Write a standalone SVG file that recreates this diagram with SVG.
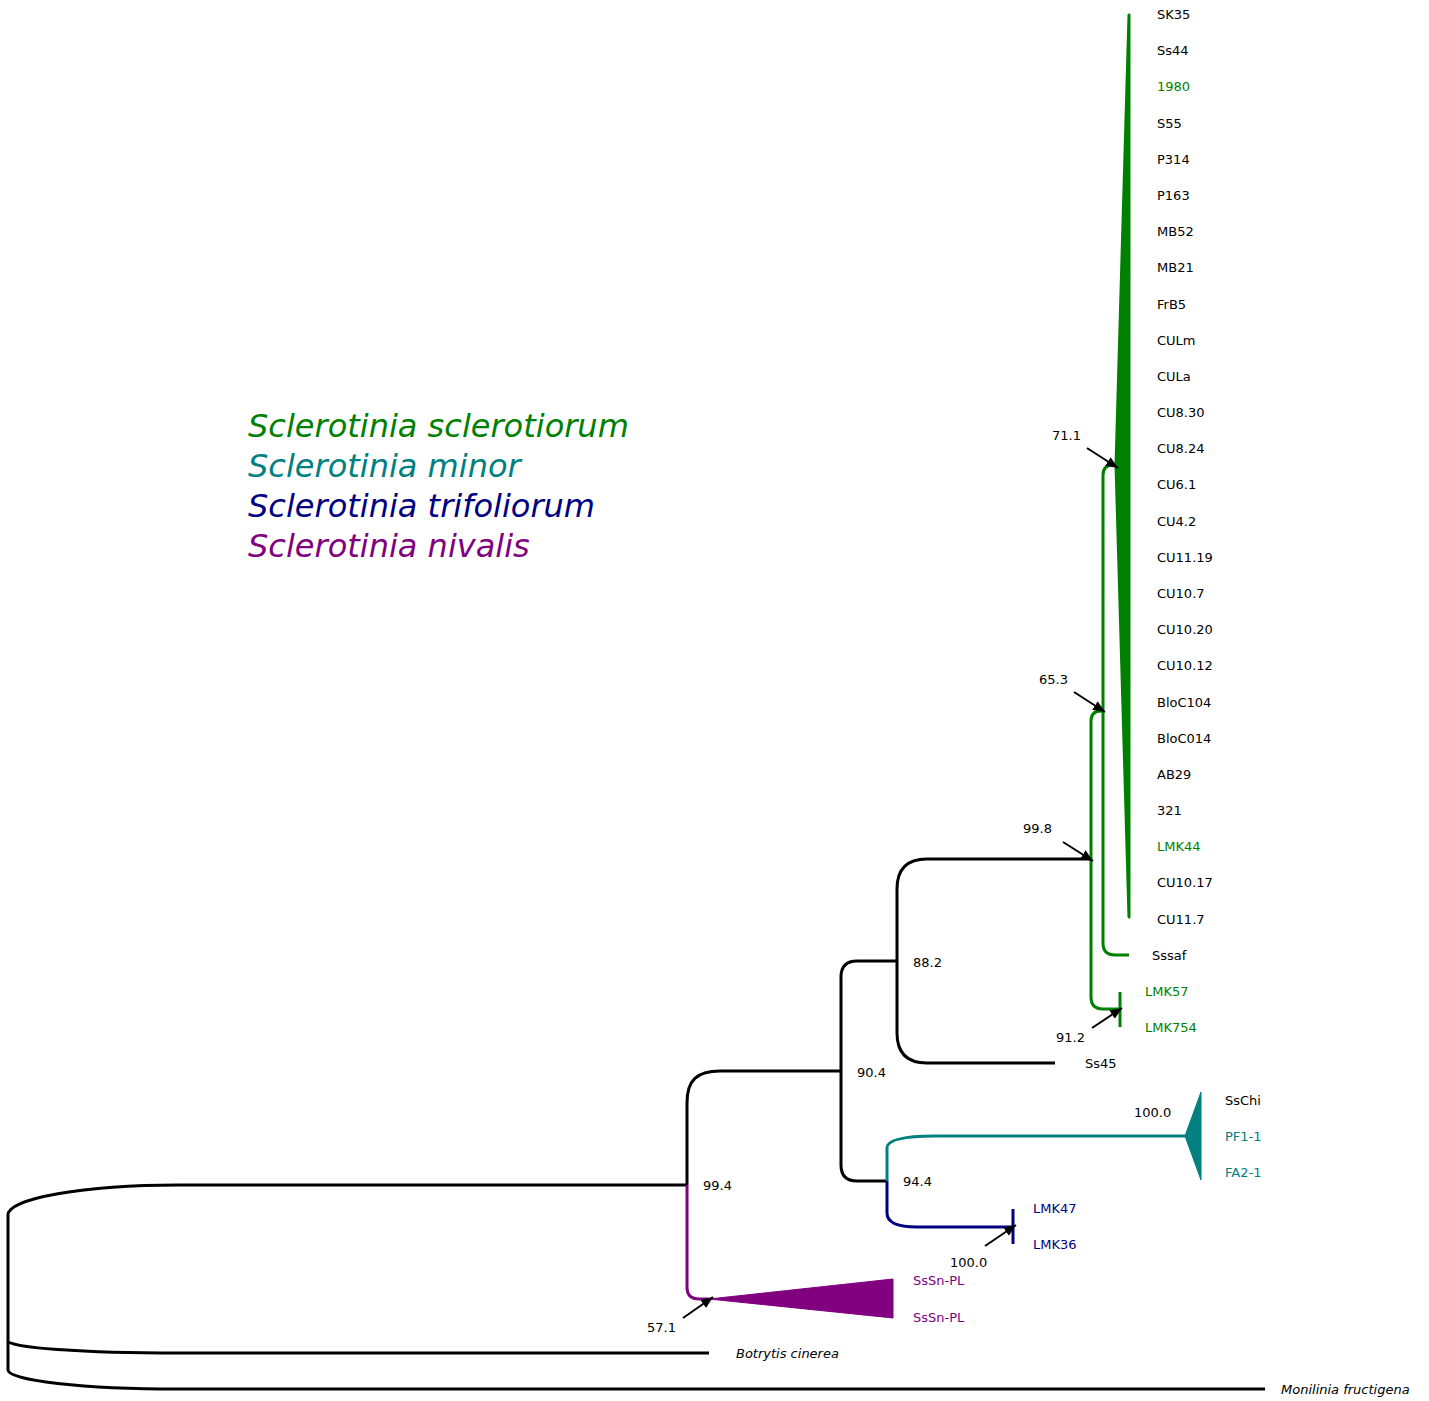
<svg xmlns="http://www.w3.org/2000/svg" width="1429" height="1401" viewBox="0 0 1429 1401">
<style>
.br{fill:none;stroke-width:3;stroke-linecap:butt;stroke-linejoin:round}
.k{stroke:#000}.g{stroke:#008000}.t{stroke:#008080}.n{stroke:#000080}.p{stroke:#800080}
.lf{font-family:"DejaVu Sans",sans-serif;font-size:13px;fill:#000}
.it{font-style:italic}
.cg{fill:#008000}.ct{fill:#008080}.cn{fill:#000080}.cp{fill:#800080}
.lg{font-family:"DejaVu Sans",sans-serif;font-size:32px;font-style:italic}
.ar{stroke:#000;stroke-width:2;fill:none}
</style>
<defs>
<marker id="ah" markerUnits="userSpaceOnUse" markerWidth="13" markerHeight="11" refX="12" refY="5" orient="auto" viewBox="0 0 13 11">
<path d="M0,0 L12,5 L0,10 z" fill="#000"/>
</marker>
</defs>
<rect width="1429" height="1401" fill="#fff"/>
<g id="connectors">
<path class="br k" d="M8,1370 V1215 A170,30 0 0 1 178,1185 H687"/>
<path class="br k" d="M8,1341 A170,12 0 0 0 178,1353 H709"/>
<path class="br k" d="M8,1370 A170,19 0 0 0 178,1389 H1265"/>
<path class="br k" d="M687,1185 V1103 C687,1080 697,1071 720,1071 H841"/>
<path class="br k" d="M841,1071 V977 Q841,961 857,961 H897"/>
<path class="br k" d="M841,1071 V1165 Q841,1181 857,1181 H887"/>
<path class="br k" d="M897,961 V889 Q897,859 927,859 H1091"/>
<path class="br k" d="M897,961 V1033 Q897,1063 927,1063 H1055"/>
<path class="br p" d="M687,1185 V1287 Q687,1299 699,1299 H709"/>
<path class="br g" d="M1091,859 V721 Q1091,711 1101,711 H1103"/>
<path class="br g" d="M1091,859 V997 Q1091,1009 1103,1009 H1120"/>
<path class="br g" d="M1103,711 V475 Q1103,465 1113,465 H1116"/>
<path class="br g" d="M1103,711 V943 Q1103,955 1115,955 H1129"/>
<path class="br t" d="M887,1181 V1148 Q887,1136 935,1136 H1185"/>
<path class="br n" d="M887,1181 V1213 Q887,1227 917,1227 H1013"/>
</g>
<g id="clade-sclerotiorum">
<polygon points="1116,465 1129,15 1129,917" fill="#008000" stroke="#008000" stroke-width="3" stroke-linejoin="round"/>
</g>
<g id="clade-lmk57">
<path class="br g" d="M1120,992 V1027"/>
</g>
<g id="clade-minor">
<polygon points="1185,1136 1201,1092 1201,1180" fill="#008080" stroke="#008080" stroke-width="1"/>
</g>
<g id="clade-trifoliorum">
<path class="br n" d="M1013,1209 V1244"/>
</g>
<g id="clade-nivalis">
<polygon points="709,1299 893,1279 893,1318" fill="#800080" stroke="#800080" stroke-width="1"/>
</g>
<g id="leaves">
<text class="lf" x="1157" y="19">SK35</text>
<text class="lf" x="1157" y="55.2">Ss44</text>
<text class="lf cg" x="1157" y="91.4">1980</text>
<text class="lf" x="1157" y="127.6">S55</text>
<text class="lf" x="1157" y="163.7">P314</text>
<text class="lf" x="1157" y="199.9">P163</text>
<text class="lf" x="1157" y="236.1">MB52</text>
<text class="lf" x="1157" y="272.3">MB21</text>
<text class="lf" x="1157" y="308.5">FrB5</text>
<text class="lf" x="1157" y="344.7">CULm</text>
<text class="lf" x="1157" y="380.8">CULa</text>
<text class="lf" x="1157" y="417">CU8.30</text>
<text class="lf" x="1157" y="453.2">CU8.24</text>
<text class="lf" x="1157" y="489.4">CU6.1</text>
<text class="lf" x="1157" y="525.6">CU4.2</text>
<text class="lf" x="1157" y="561.8">CU11.19</text>
<text class="lf" x="1157" y="597.9">CU10.7</text>
<text class="lf" x="1157" y="634.1">CU10.20</text>
<text class="lf" x="1157" y="670.3">CU10.12</text>
<text class="lf" x="1157" y="706.5">BloC104</text>
<text class="lf" x="1157" y="742.7">BloC014</text>
<text class="lf" x="1157" y="778.9">AB29</text>
<text class="lf" x="1157" y="815">321</text>
<text class="lf cg" x="1157" y="851.2">LMK44</text>
<text class="lf" x="1157" y="887.4">CU10.17</text>
<text class="lf" x="1157" y="923.6">CU11.7</text>
<text class="lf" x="1152" y="959.8">Sssaf</text>
<text class="lf cg" x="1145" y="996">LMK57</text>
<text class="lf cg" x="1145" y="1032.2">LMK754</text>
<text class="lf" x="1085" y="1068.3">Ss45</text>
<text class="lf" x="1225" y="1104.5">SsChi</text>
<text class="lf ct" x="1225" y="1140.7">PF1-1</text>
<text class="lf ct" x="1225" y="1176.9">FA2-1</text>
<text class="lf cn" x="1033" y="1213.1">LMK47</text>
<text class="lf cn" x="1033" y="1249.3">LMK36</text>
<text class="lf cp" x="913" y="1285.4">SsSn-PL</text>
<text class="lf cp" x="913" y="1321.6">SsSn-PL</text>
<text class="lf it" x="736" y="1357.8">Botrytis cinerea</text>
<text class="lf it" x="1281" y="1394">Monilinia fructigena</text>
</g>
<g id="support">
<text class="lf" x="1052" y="440">71.1</text>
<text class="lf" x="1039" y="684">65.3</text>
<text class="lf" x="1023" y="833">99.8</text>
<text class="lf" x="913" y="967">88.2</text>
<text class="lf" x="1056" y="1042">91.2</text>
<text class="lf" x="857" y="1077">90.4</text>
<text class="lf" x="1134" y="1117">100.0</text>
<text class="lf" x="903" y="1186">94.4</text>
<text class="lf" x="703" y="1190">99.4</text>
<text class="lf" x="950" y="1267">100.0</text>
<text class="lf" x="647" y="1332">57.1</text>
</g>
<g id="arrows">
<line class="ar" x1="1087" y1="448" x2="1118" y2="468" marker-end="url(#ah)"/>
<line class="ar" x1="1074" y1="692" x2="1105" y2="712" marker-end="url(#ah)"/>
<line class="ar" x1="1063" y1="842" x2="1093" y2="861" marker-end="url(#ah)"/>
<line class="ar" x1="1092" y1="1028" x2="1122" y2="1008" marker-end="url(#ah)"/>
<line class="ar" x1="985" y1="1246" x2="1016" y2="1225" marker-end="url(#ah)"/>
<line class="ar" x1="683" y1="1318" x2="713" y2="1297" marker-end="url(#ah)"/>
</g>
<g id="legend">
<text class="lg cg" x="248" y="437">Sclerotinia sclerotiorum</text>
<text class="lg ct" x="248" y="477">Sclerotinia minor</text>
<text class="lg cn" x="248" y="517">Sclerotinia trifoliorum</text>
<text class="lg cp" x="248" y="557">Sclerotinia nivalis</text>
</g>
</svg>
